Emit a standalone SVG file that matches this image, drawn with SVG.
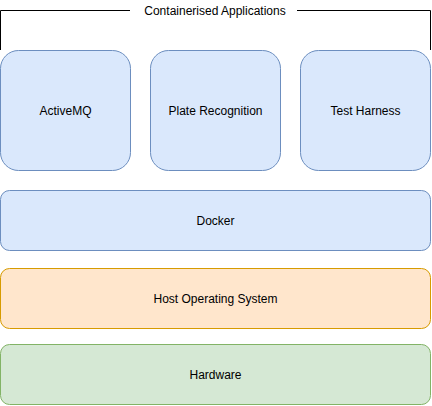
<svg xmlns="http://www.w3.org/2000/svg" width="432" height="406" viewBox="0 0 432 406">
<style>
text{font-family:"Liberation Sans",Arial,sans-serif;font-size:12px;fill:#000;text-anchor:middle;dominant-baseline:central}
.blue{fill:#dae8fc;stroke:#6c8ebf}
.orange{fill:#ffe6cc;stroke:#d79b00}
.green{fill:#d5e8d4;stroke:#82b366}
.line{fill:none;stroke:#000;stroke-width:1}
</style>
<rect width="432" height="406" fill="#fff"/>
<g id="connectors">
<path class="line" d="M0.5 50 V10.5 H130 M297 10.5 H430.5 V50"/>
</g>
<g id="bracket-label"><text x="215" y="10.5">Containerised Applications</text></g>
<g id="activemq"><rect class="blue" x="0.5" y="50.5" width="130" height="120" rx="18"/><text x="65.5" y="110.5">ActiveMQ</text></g>
<g id="plate-recognition"><rect class="blue" x="150.5" y="50.5" width="130" height="120" rx="18"/><text x="215.5" y="110.5">Plate Recognition</text></g>
<g id="test-harness"><rect class="blue" x="300.5" y="50.5" width="130" height="120" rx="18"/><text x="365.5" y="110.5">Test Harness</text></g>
<g id="docker"><rect class="blue" x="0.5" y="190.5" width="430" height="60" rx="9"/><text x="215.5" y="220.5">Docker</text></g>
<g id="host-os"><rect class="orange" x="0.5" y="268.5" width="430" height="60" rx="9"/><text x="215.5" y="298.5">Host Operating System</text></g>
<g id="hardware"><rect class="green" x="0.5" y="344.5" width="430" height="60" rx="9"/><text x="215.5" y="374.5">Hardware</text></g>
</svg>
